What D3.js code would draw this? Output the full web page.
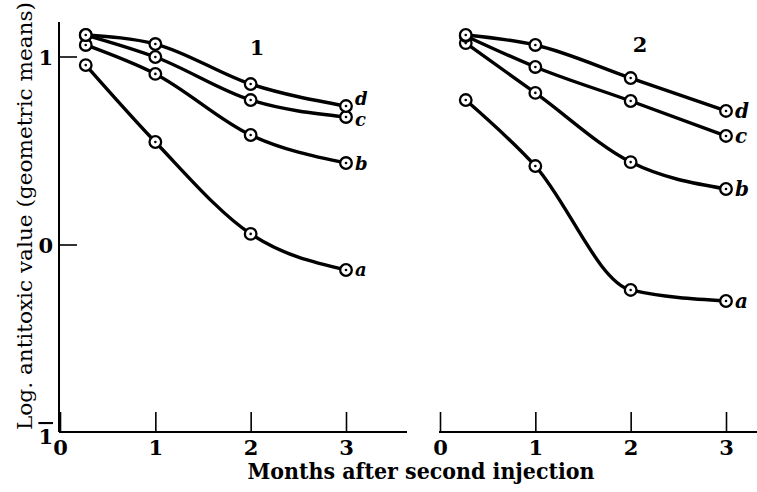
<!DOCTYPE html>
<html>
<head>
<meta charset="utf-8">
<script src="https://cdn.jsdelivr.net/npm/d3@7"></script>
<style>
  body { margin: 0; background: #fff; }
  svg { display: block; }
</style>
</head>
<body>
<div id="chart"></div>
<script>
var width = 757,
  height = 492;

// months after second injection (first reading a little after 0)
var months = [0.27, 1, 2, 3];
var seriesNames = ["a", "b", "c", "d"];
var xTicks = [0, 1, 2, 3];
var yTicks = [1, 0, -1];

// panel 1
var p1_a = [0.957, 0.548, 0.059, -0.133];
var p1_b = [1.064, 0.910, 0.585, 0.436];
var p1_c = [1.117, 1.000, 0.771, 0.681];
var p1_d = [1.117, 1.069, 0.856, 0.739];

// panel 2
var p2_a = [0.771, 0.420, -0.239, -0.298];
var p2_b = [1.074, 0.809, 0.441, 0.298];
var p2_c = [1.112, 0.947, 0.766, 0.580];
var p2_d = [1.117, 1.064, 0.888, 0.713];

var panels = [
  { label: "1", series: [p1_a, p1_b, p1_c, p1_d], range: [60, 346], axisEnd: 407, labelPos: [257, 47] },
  { label: "2", series: [p2_a, p2_b, p2_c, p2_d], range: [440, 726], axisEnd: 757, labelPos: [640, 44] }
];

var svg = d3.select("#chart")
  .append("svg")
  .attr("width", width)
  .attr("height", height);

var serif = "'DejaVu Serif', 'Liberation Serif', serif";
var baseY = 432;

var y = d3.scaleLinear()
  .domain([-1, 1])
  .range([433, 57]);

// y axis (panel 1 only)
svg.append("line")
  .attr("x1", 59).attr("x2", 59)
  .attr("y1", 22).attr("y2", baseY)
  .attr("stroke", "#000").attr("stroke-width", 2);

yTicks.forEach(function (v) {
  if (v != -1) {
    svg.append("line")
      .attr("x1", 59).attr("x2", 77)
      .attr("y1", y(v)).attr("y2", y(v))
      .attr("stroke", "#000").attr("stroke-width", 1.6);
  }
  svg.append("text")
    .attr("x", 53)
    .attr("y", v == -1 ? 444 : y(v))
    .attr("dy", v == -1 ? 0 : "0.36em")
    .attr("text-anchor", "end")
    .attr("font-family", serif)
    .attr("font-weight", "bold")
    .attr("font-size", 21)
    .style("text-decoration", v == -1 ? "overline" : "none")
    .text(Math.abs(v));
});

var line = d3.line().curve(d3.curveMonotoneX);

// small nudges so the end labels d and c do not touch
var labelShift = { a: 0, b: 0, c: 3, d: -8 };

panels.forEach(function (p) {
  var x = d3.scaleLinear().domain([0, 3]).range(p.range);

  // baseline
  svg.append("line")
    .attr("x1", p.range[0] - 1).attr("x2", p.axisEnd)
    .attr("y1", baseY).attr("y2", baseY)
    .attr("stroke", "#000").attr("stroke-width", 2);

  var ax = svg.append("g")
    .attr("transform", "translate(0," + baseY + ")")
    .call(d3.axisBottom(x).tickValues(xTicks).tickFormat(d3.format("d"))
      .tickSizeInner(-20).tickSizeOuter(0).tickPadding(8));
  ax.select(".domain").remove();
  ax.selectAll(".tick line").attr("stroke", "#000").attr("stroke-width", 1.6);
  ax.selectAll(".tick text")
    .attr("font-family", serif)
    .attr("font-weight", "bold")
    .attr("font-size", 21)
    .attr("fill", "#000");

  svg.append("text")
    .attr("x", p.labelPos[0]).attr("y", p.labelPos[1])
    .attr("dy", "0.36em")
    .attr("text-anchor", "middle")
    .attr("font-family", serif)
    .attr("font-weight", "bold")
    .attr("font-size", 21)
    .text(p.label);

  p.series.forEach(function (vals, i) {
    var pts = months.map(function (m, j) { return [x(m), y(vals[j])]; });

    svg.append("path")
      .attr("d", line(pts))
      .attr("fill", "none")
      .attr("stroke", "#000")
      .attr("stroke-width", 3.4);

    svg.selectAll(null)
      .data(pts)
      .enter().append("circle")
      .attr("cx", function (d) { return d[0]; })
      .attr("cy", function (d) { return d[1]; })
      .attr("r", 5.8)
      .attr("fill", "#fff")
      .attr("stroke", "#000")
      .attr("stroke-width", 2.3);

    svg.selectAll(null)
      .data(pts)
      .enter().append("circle")
      .attr("cx", function (d) { return d[0]; })
      .attr("cy", function (d) { return d[1]; })
      .attr("r", 1.3)
      .attr("fill", "#000");

    var last = pts[pts.length - 1];
    var nm = seriesNames[i];
    svg.append("text")
      .attr("x", last[0] + 9)
      .attr("y", last[1] + (p.label == "1" ? labelShift[nm] : 0))
      .attr("dy", "0.36em")
      .attr("font-family", serif)
      .attr("font-weight", "bold")
      .attr("font-style", "italic")
      .attr("font-size", p.label == "1" ? 18 : 20)
      .text(nm);
  });
});

// axis titles
svg.append("text")
  .attr("x", 421).attr("y", 479)
  .attr("text-anchor", "middle")
  .attr("font-family", serif)
  .attr("font-weight", "bold")
  .attr("font-size", 22)
  .attr("textLength", 347)
  .attr("lengthAdjust", "spacingAndGlyphs")
  .text("Months after second injection");

svg.append("text")
  .attr("transform", "translate(32,216) rotate(-90)")
  .attr("text-anchor", "middle")
  .attr("font-family", serif)
  .attr("font-size", 21)
  .attr("textLength", 428)
  .attr("lengthAdjust", "spacingAndGlyphs")
  .text("Log. antitoxic value (geometric means)");
</script>
</body>
</html>
